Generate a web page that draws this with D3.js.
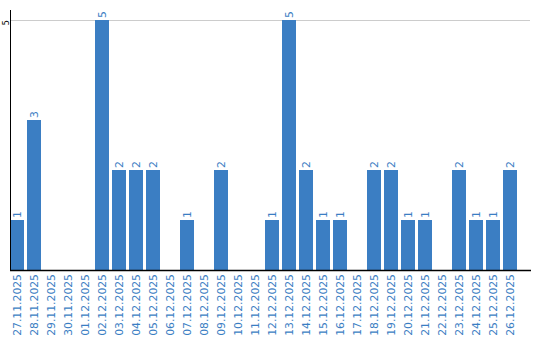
<!DOCTYPE html>
<html>
<head>
<meta charset="utf-8">
<script src="https://cdn.jsdelivr.net/npm/d3@7"></script>
<style>
  body { margin: 0; background: #fff; }
  text { font-family: "DejaVu Sans", sans-serif; font-size: 10.8px; }
</style>
</head>
<body>
<svg id="chart" width="540" height="340"></svg>
<script>
let dates = ['27.11.2025', '28.11.2025', '29.11.2025', '30.11.2025', '01.12.2025',
    '02.12.2025', '03.12.2025', '04.12.2025', '05.12.2025', '06.12.2025',
    '07.12.2025', '08.12.2025', '09.12.2025', '10.12.2025', '11.12.2025',
    '12.12.2025', '13.12.2025', '14.12.2025', '15.12.2025', '16.12.2025',
    '17.12.2025', '18.12.2025', '19.12.2025', '20.12.2025', '21.12.2025',
    '22.12.2025', '23.12.2025', '24.12.2025', '25.12.2025', '26.12.2025'];
let counts = [1, 3, 0, 0, 0, 5, 2, 2, 2, 0, 1, 0, 2, 0, 0, 1, 5, 2, 1, 1, 0, 2, 2, 1, 1, 0, 2, 1, 1, 2];
let yTicks = [5];

let colorBar = '#3b7ec3';
let colorText = '#3b7ec3';
let colorGrid = '#cccccc';

let mLeft = 10, mRight = 530, mTop = 10, mBottom = 270;

let svg = d3.select('#chart');
let data = dates.map((d, i) => ({date: d, value: counts[i]}));

let x = d3.scaleBand()
    .domain(dates)
    .range([mLeft, 517])
    .paddingInner(3 / 17)
    .paddingOuter(0);

let y = d3.scaleLinear()
    .domain([0, 5])
    .range([mBottom, 20]);

// gridlines
svg.append('g')
    .selectAll('line')
    .data(yTicks)
    .join('line')
    .attr('x1', mLeft)
    .attr('x2', mRight)
    .attr('y1', d => y(d) + 0.5)
    .attr('y2', d => y(d) + 0.5)
    .attr('stroke', colorGrid);

// bars
svg.append('g')
    .selectAll('rect')
    .data(data.filter(d => d.value > 0))
    .join('rect')
    .attr('x', d => x(d.date))
    .attr('y', d => y(d.value))
    .attr('width', x.bandwidth())
    .attr('height', d => y(0) - y(d.value))
    .attr('fill', colorBar);

// value labels
svg.append('g')
    .selectAll('text')
    .data(data.filter(d => d.value > 0))
    .join('text')
    .attr('transform', d => `translate(${x(d.date) + x.bandwidth() / 2 + 4},${y(d.value) - 2}) rotate(-90)`)
    .attr('fill', colorText)
    .text(d => d.value);

// y axis
svg.append('line')
    .attr('x1', mLeft + 0.5).attr('x2', mLeft + 0.5)
    .attr('y1', mTop).attr('y2', mBottom)
    .attr('stroke', '#000');

svg.append('g')
    .selectAll('text')
    .data(yTicks)
    .join('text')
    .attr('transform', d => `translate(9,${y(d)}) rotate(-90)`)
    .attr('text-anchor', 'end')
    .attr('fill', '#000')
    .style('font-size', '8.5px')
    .text(d => d);

// x axis
let xAxis = d3.axisBottom(x).tickSize(0).tickPadding(0);
let gx = svg.append('g')
    .attr('transform', `translate(0,${mBottom})`)
    .call(xAxis);
gx.select('.domain').remove();
gx.selectAll('text')
    .attr('fill', colorText)
    .attr('text-anchor', 'end')
    .attr('dy', null)
    .attr('y', 0)
    .attr('transform', 'translate(4,4) rotate(-90)');
gx.attr('font-family', null).attr('font-size', null);

svg.append('line')
    .attr('x1', mLeft).attr('x2', mRight + 1)
    .attr('y1', mBottom + 0.5).attr('y2', mBottom + 0.5)
    .attr('stroke', '#000')
    .attr('stroke-width', 1.5);
</script>
</body>
</html>
